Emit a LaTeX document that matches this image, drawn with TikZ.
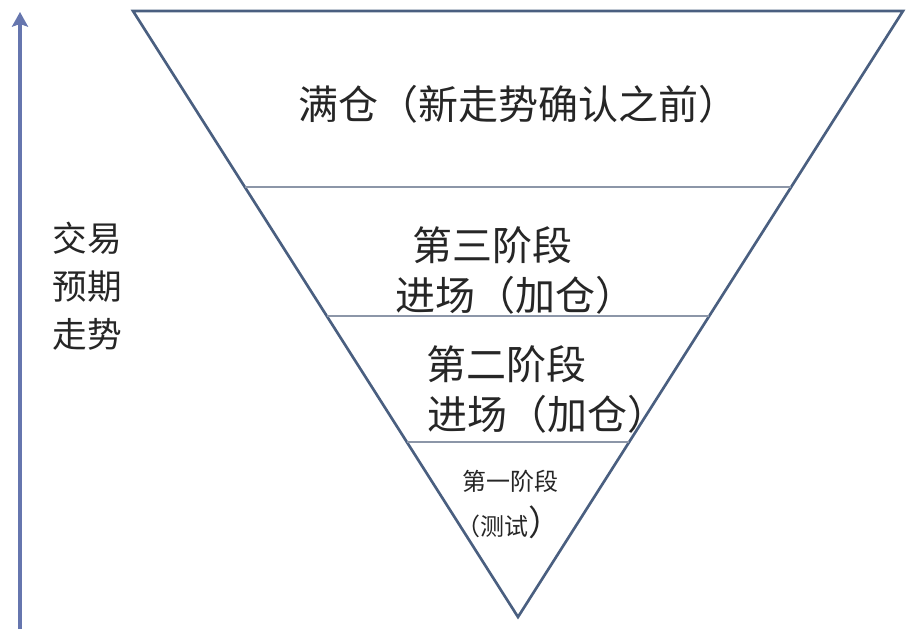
\documentclass[tikz,border=0pt]{standalone}
\usepackage{fontspec}
\newfontfamily\cjk{Noto Sans CJK SC}
\usetikzlibrary{calc,arrows.meta}
\definecolor{rimcol}{HTML}{4A5F80}
\definecolor{divcol}{HTML}{8C96A8}
\definecolor{arrcol}{HTML}{6676AE}
\definecolor{txtcol}{HTML}{262626}
\begin{document}
\begin{tikzpicture}[x=0.75pt,y=-0.75pt,
	rim/.style={draw=rimcol,line width=2pt,line join=miter},
	divider/.style={draw=divcol,line width=1.3pt},
	bigtxt/.style={inner sep=0pt,text=txtcol,font={\cjk\fontsize{30}{36}\selectfont}},
	smalltxt/.style={inner sep=0pt,text=txtcol,font={\cjk\fontsize{18}{22}\selectfont}},
	sidetxt/.style={inner sep=0pt,text=txtcol,align=left,font={\cjk\fontsize{26}{36}\selectfont}}]
			\useasboundingbox (0,0) rectangle (921,634);
			% inverted triangle
			\coordinate (A) at (133,11);
			\coordinate (B) at (903,11);
			\coordinate (C) at (518,617);
			\draw[rim] (A) -- (B) -- (C) -- cycle;
			
			% dividers between stages
			\coordinate (L3) at ($(A)!0.2904!(C)$);
			\coordinate (R3) at ($(B)!0.2904!(C)$);
			\coordinate (L2) at ($(A)!0.5033!(C)$);
			\coordinate (R2) at ($(B)!0.5033!(C)$);
			\coordinate (L1) at ($(A)!0.7112!(C)$);
			\coordinate (R1) at ($(B)!0.7112!(C)$);
			\draw[divider] (L3) -- (R3);
			\draw[divider] (L2) -- (R2);
			\draw[divider] (L1) -- (R1);
			
			% labels
			\node[bigtxt] (full) at (518,104) {满仓（新走势确认之前）};
			\node[bigtxt] (s3a) at (492,245) {第三阶段};
			\node[bigtxt] (s3b) at (515,295) {进场（加仓）};
			\node[bigtxt] (s2a) at (506,364) {第二阶段};
			\node[bigtxt] (s2b) at (547,414) {进场（加仓）};
			\node[smalltxt] (s1a) at (510,481) {第一阶段};
			\node[smalltxt] (s1b) at (510,522) {（测试{\fontsize{26}{30}\selectfont ）}};
			
			% trend axis
			\coordinate (ab) at (20,629);
			\coordinate (at) at (20,12);
			\draw[draw=arrcol,line width=2.6pt,-{Stealth[length=11pt,width=12pt,inset=2pt]}] (ab) -- (at);
			\node[sidetxt] (trend) at (87,286) {交易\\预期\\走势};
\end{tikzpicture}
\end{document}
